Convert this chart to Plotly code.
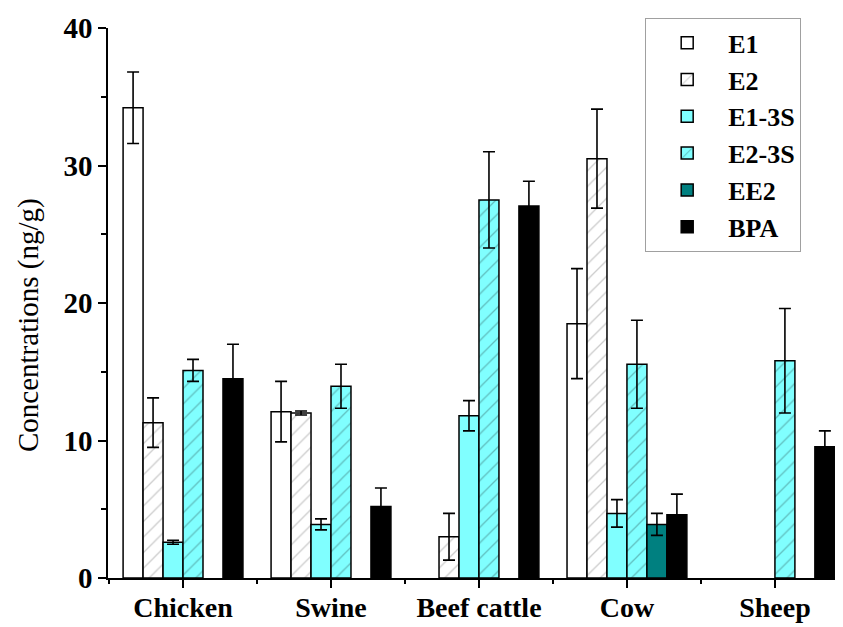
import plotly.graph_objects as go

categories = ["Chicken", "Swine", "Beef cattle", "Cow", "Sheep"]
series_names = ["E1", "E2", "E1-3S", "E2-3S", "EE2", "BPA"]

E1 = [34.2, 12.1, None, 18.5, None]
E1_err = [2.6, 2.2, None, 4.0, None]
E2 = [11.3, 12.0, 3.0, 30.5, None]
E2_err = [1.8, 0.15, 1.7, 3.6, None]
E1_3S = [2.6, 3.9, 11.8, 4.7, None]
E1_3S_err = [0.15, 0.4, 1.1, 1.0, None]
E2_3S = [15.1, 13.95, 27.5, 15.55, 15.8]
E2_3S_err = [0.8, 1.6, 3.5, 3.2, 3.8]
EE2 = [None, None, None, 3.9, None]
EE2_err = [None, None, None, 0.8, None]
BPA = [14.5, 5.2, 27.05, 4.6, 9.55]
BPA_err = [2.5, 1.35, 1.8, 1.5, 1.15]

y_ticks = [0, 10, 20, 30, 40]
y_title = "Concentrations (ng/g)"

values = [E1, E2, E1_3S, E2_3S, EE2, BPA]
errors = [E1_err, E2_err, E1_3S_err, E2_3S_err, EE2_err, BPA_err]
fills = ["#ffffff", "#ffffff", "#80ffff", "#80ffff", "#008080", "#000000"]
hatch = ["", "/", "", "/", "", ""]
hatch_fg = [None, "#9a9a9a", None, "#3f7f7f", None, None]

xpos = list(range(len(categories)))
FONT = "Liberation Serif"

fig = go.Figure()
for i, name in enumerate(series_names):
    marker = dict(color=fills[i], line=dict(color="black", width=1.5))
    if hatch[i]:
        marker["pattern"] = dict(shape=hatch[i], fgcolor=hatch_fg[i], bgcolor=fills[i],
                                 size=11, solidity=0.12, fillmode="overlay")
    fig.add_trace(go.Bar(
        name=name, x=xpos, y=values[i], marker=marker,
        error_y=dict(type="data", array=errors[i], color="black", thickness=1.6, width=6),
    ))

# page body has an 8px margin: figure sized to fit the 843x627 window
fig.update_layout(
    width=835, height=619,
    barmode="group", bargap=0.19, bargroupgap=0,
    paper_bgcolor="white", plot_bgcolor="white",
    margin=dict(l=100, r=0, t=20, b=49, autoexpand=False),
    font=dict(family=FONT, size=28, color="black"),
    legend=dict(x=0.7306, y=1.018, xanchor="left", yanchor="top",
                bordercolor="#a0a0a0", borderwidth=1.2, bgcolor="white",
                font=dict(family=FONT, size=26, color="black", weight="bold"),
                itemwidth=72),
    showlegend=True,
    annotations=[dict(text=y_title, xref="paper", yref="paper", x=-0.1088, y=0.46,
                      xanchor="center", yanchor="middle", textangle=-90, showarrow=False,
                      font=dict(family=FONT, size=29, color="black"))],
)
fig.update_xaxes(
    range=[-0.507, 4.46], tickvals=xpos, ticktext=categories,
    showline=True, linecolor="black", linewidth=1.5,
    ticks="outside", ticklen=8, tickwidth=1.5, tickcolor="black",
    minor=dict(tick0=0.5, dtick=1, ticks="outside", ticklen=4, tickwidth=1.5, tickcolor="black"),
    showgrid=False, zeroline=False, ticklabelstandoff=-4,
    tickfont=dict(family=FONT, size=28, color="black", weight="bold"),
)
fig.update_yaxes(
    range=[0, 40], tickvals=y_ticks,
    showline=True, linecolor="black", linewidth=1.5,
    ticks="outside", ticklen=8, tickwidth=1.5, tickcolor="black",
    minor=dict(dtick=5, tick0=0, ticks="outside", ticklen=5, tickwidth=1.5, tickcolor="black"),
    showgrid=False, zeroline=False,
    tickfont=dict(family=FONT, size=29, color="black", weight="bold"),
)

fig.write_html("out.html")
